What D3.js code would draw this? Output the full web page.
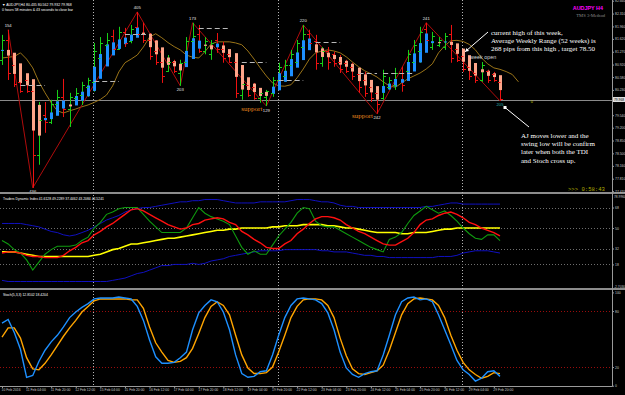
<!DOCTYPE html>
<html>
<head>
<meta charset="utf-8">
<script src="https://cdn.jsdelivr.net/npm/d3@7"></script>
<style>
body { margin: 0; background: #000; }
svg { display: block; font-family: "Liberation Sans", Arial, sans-serif; }
</style>
</head>
<body>
<svg width="625" height="395"></svg>
<script>
// bar time labels, one every 4 bars (H4)
var timeLabels = ["10 Feb 2016","11 Feb 04:00","11 Feb 20:00","12 Feb 12:00","15 Feb 04:00","15 Feb 20:00",
  "16 Feb 12:00","17 Feb 04:00","17 Feb 20:00","18 Feb 12:00","19 Feb 04:00","19 Feb 20:00","22 Feb 12:00",
  "23 Feb 04:00","23 Feb 20:00","24 Feb 12:00","25 Feb 04:00","25 Feb 20:00","26 Feb 12:00","29 Feb 04:00","29 Feb 20:00"];

// AUDJPY H4 candles
var open = [81.05,81.59,80.90,80.45,80.50,80.20,78.45,79.55,79.35,79.85,80.05,79.70,80.00,80.10,80.30,80.45,81.10,81.45,81.70,81.35,
  81.80,81.55,81.95,81.75,81.60,81.30,81.00,80.75,81.00,80.70,81.00,81.55,81.75,81.30,81.20,81.60,81.35,81.20,81.00,80.10,
  80.35,80.30,80.00,80.05,80.15,80.50,80.60,80.90,81.00,81.40,81.75,81.55,80.95,81.30,81.20,81.00,80.95,80.85,80.65,80.50,
  80.30,80.15,80.00,80.30,80.35,80.70,80.75,81.00,81.30,81.90,81.40,81.45,81.40,81.75,81.35,81.15,80.85,80.70,80.50,80.75,
  80.65,80.44];
var high = [81.73,81.87,81.05,80.86,80.58,80.28,79.90,79.90,79.96,80.23,80.53,80.15,80.28,80.45,80.56,81.51,81.67,81.78,81.87,81.95,
  81.92,82.00,82.355,82.06,81.78,81.59,81.32,81.18,81.05,81.05,81.67,82.06,82.00,81.67,81.59,81.78,81.54,81.32,81.18,80.50,
  80.42,80.42,80.23,80.23,80.58,80.97,81.05,81.32,81.59,82.00,81.87,81.73,81.40,81.40,81.27,81.18,81.05,80.97,80.78,80.72,
  80.45,80.28,80.78,80.58,80.83,80.86,81.32,81.59,81.95,82.06,81.81,81.67,81.78,82.00,81.46,81.32,81.05,80.86,80.99,80.78,
  80.72,80.56];
var low = [80.91,80.50,80.31,80.15,80.15,77.56,78.19,79.06,79.30,79.55,79.49,79.22,79.82,79.82,80.04,80.18,80.56,81.05,81.18,81.32,
  81.40,81.50,81.67,81.51,81.05,80.91,80.42,80.72,80.69,80.34,80.95,81.24,81.24,81.20,81.05,81.24,80.97,80.97,80.01,79.96,
  80.04,79.96,79.88,79.79,80.04,80.42,80.45,80.86,80.91,81.18,81.40,80.78,80.86,80.78,80.86,80.69,80.69,80.50,80.15,80.04,
  79.90,79.58,79.96,80.23,80.23,80.18,80.69,80.86,80.97,81.51,81.32,81.40,81.32,80.97,80.99,80.72,80.50,80.42,80.45,80.42,
  80.45,79.93];
var close = [81.59,80.70,80.40,80.20,80.20,78.45,79.40,79.35,79.85,80.05,79.70,80.05,80.15,80.35,80.50,81.30,81.50,81.60,81.35,81.80,
  81.50,81.90,81.75,81.60,81.15,81.00,80.60,81.00,80.75,80.95,81.55,81.70,81.30,81.55,81.50,81.35,81.10,81.00,80.15,80.40,
  80.10,80.00,80.15,80.20,80.50,80.85,80.90,81.20,81.50,81.75,81.50,80.95,81.30,81.00,80.95,80.80,80.75,80.60,80.30,80.15,
  80.00,79.85,80.60,80.50,80.70,80.35,81.20,81.45,81.80,81.60,81.70,81.60,81.70,81.10,81.05,80.80,80.60,80.50,80.90,80.50,
  80.50,79.97];

// shifted moving average (extends 3 bars past the last candle)
var movingAvg = [81.10,81.12,81.14,81.24,81.07,80.83,80.45,80.15,79.88,79.66,79.60,79.66,79.71,79.77,79.82,79.89,79.97,80.09,80.34,80.72,
  80.97,81.07,81.18,81.40,81.67,81.76,81.65,81.52,81.41,81.32,81.18,81.12,81.10,81.27,81.48,81.54,81.54,81.54,81.51,81.46,
  81.29,81.07,80.83,80.61,80.42,80.34,80.33,80.37,80.56,80.80,81.07,81.24,81.29,81.32,81.29,81.24,81.13,80.99,80.86,80.75,
  80.67,80.58,80.45,80.34,80.30,80.42,80.53,80.61,80.69,80.80,80.94,81.24,81.43,81.57,81.58,81.55,81.47,81.32,81.10,80.94,
  80.83,80.79,80.73,80.65,80.45];

// zigzag swing points: bar index, "H" or "L", label
var swingBars = [1,5,22,29,31,43,49,61,69,81];
var swingTypes = ["H","L","H","L","H","L","H","L","H","L"];
var swingLabels = ["154","436","405","203","173","129","220","242","241","205"];

// grey dashed level segments: [from bar, to bar, price]
var dashLevels = [[3,7,80.37],[15,19,80.48],[20,24,81.76],[32,37,81.92],[39,43,80.99],[45,49,80.50],[51,55,81.54],[58,61,80.69],[62,67,80.69]];

var priceTicks = [82.660,82.310,81.960,81.620,81.270,80.920,80.580,80.230,79.540,79.200,78.850,78.500,78.160,77.810,77.470];
var lastPrice = 79.968;

// Traders Dynamic Index
var tdiUpper = [54,54,54,54,53,52,51,49,47,46,44,43,44,46,48,51,54,57,59,61,64,66,67,68,68,69,70,71,72,73,73,74,74,75,75,75,74,73,72,72,
  72,72,73,73,73,73,73,74,75,75,75,74,73,73,72,70,69,69,68,68,68,68,68,68,68,68,68,68,68,69,69,70,71,72,72,71,71,71,71,71,71,71];
var tdiLower = [4,3,3,3,3,3,3,3,3,3,3,3,3,3,3,3,3,3,4,5,6,8,10,11,13,15,17,17,18,18,18,19,18,19,21,22,23,25,26,27,
  28,29,30,30,30,30,31,31,31,31,31,31,30,30,29,29,29,28,27,26,26,25,25,24,24,24,24,24,24,24,24,25,25,25,26,28,29,30,30,30,29,28];
var tdiPrice = [39,36,31,28,22,13,20,27,31,34,34,34,35,39,42,50,55,62,64,67,68,68,68,62,56,51,46,46,46,46,50,59,68,63,60,58,56,53,43,33,
  27,30,27,27,35,43,49,55,63,68,67,56,52,51,51,48,45,42,39,36,33,31,29,40,42,46,54,61,65,69,66,63,65,61,56,50,45,41,40,44,44,39];
var tdiSignal = [28,29,29,28,26,25,25,24,24,24,26,30,33,37,39,44,47,51,54,58,62,66,67,65,62,59,56,53,51,49,50,53,54,57,58,59,58,55,53,47,
  44,40,37,33,32,32,36,39,45,49,54,58,60,60,59,57,53,50,47,45,42,39,36,35,35,38,41,46,53,57,58,61,63,64,62,59,55,53,50,48,46,43];
var tdiBase = [29,29,29,28,27,26,25,25,25,25,25,25,25,25,25,26,27,29,31,32,34,36,36,37,38,39,40,41,41,42,43,44,45,46,47,48,48,49,49,50,
  50,50,50,50,51,51,52,52,52,53,53,53,53,52,52,51,50,50,49,48,47,46,46,46,46,45,45,46,46,46,47,48,49,49,50,50,50,50,50,50,50,50];
var tdiLevels = [68,50,32,18];

// Stochastic (5,3,3)
var stochMain = [67,71,57,39,9,11,26,38,47,54,63,73,79,84,88,93,94,94,94,95,94,93,85,70,49,31,24,24,25,30,36,60,78,86,92,90,79,60,33,13,
  9,10,15,16,33,54,73,86,93,94,93,92,88,78,60,36,19,12,9,13,15,16,33,54,76,90,94,95,92,93,90,76,60,44,27,17,12,5,8,15,16,10];
var stochSignal = [52,62,62,51,30,18,17,24,33,43,53,62,70,79,85,91,93,93,93,93,93,92,92,83,63,46,36,27,25,26,30,40,56,73,85,90,86,76,54,33,
  19,13,13,14,20,36,54,73,85,92,93,93,92,86,73,51,32,18,13,12,14,16,22,38,57,76,88,93,94,93,92,86,73,54,38,25,17,12,8,10,14,13];
var stochLevels = [80,20];

var svg = d3.select("svg");
var axisX = 612;

var x = d3.scaleLinear().domain([0, 81]).range([2, 500]);
var yP = d3.scaleLinear().domain([77.42, 82.68]).range([193, 0]);
var yT = d3.scaleLinear().domain([-2.7, 79]).range([288, 195]);
var yS = d3.scaleLinear().domain([0, 100]).range([385.7, 292.4]);

var defs = svg.append("defs");
function clip(id, y0, y1) {
  defs.append("clipPath").attr("id", id).append("rect")
    .attr("x", 0).attr("y", y0).attr("width", axisX).attr("height", y1 - y0);
}
clip("cMain", 0, 192);
clip("cTdi", 195, 288);
clip("cSto", 291, 386);

// panel frames
svg.append("rect").attr("x", 0).attr("y", 192).attr("width", 625).attr("height", 2).attr("fill", "#8c8c8c");
svg.append("rect").attr("x", 0).attr("y", 288).attr("width", 625).attr("height", 2).attr("fill", "#8c8c8c");
svg.append("line").attr("x1", axisX + 0.5).attr("x2", axisX + 0.5).attr("y1", 0).attr("y2", 386.5)
  .attr("stroke", "#9a9a9a");
svg.append("line").attr("x1", 0).attr("x2", axisX).attr("y1", 386.5).attr("y2", 386.5).attr("stroke", "#9a9a9a");

// week separators
[15, 45, 75].forEach(function(i) {
  svg.append("line").attr("x1", Math.round(x(i)) - 0.5).attr("x2", Math.round(x(i)) - 0.5)
    .attr("y1", 0).attr("y2", 386).attr("stroke", "#b4b4b4").attr("stroke-dasharray", "1,2");
});

// ---------- main panel ----------
var main = svg.append("g").attr("clip-path", "url(#cMain)");

main.append("line").attr("x1", 0).attr("x2", axisX).attr("y1", Math.round(yP(lastPrice)) + 0.5)
  .attr("y2", Math.round(yP(lastPrice)) + 0.5).attr("stroke", "#8a8a8a");

main.append("path").datum(movingAvg)
  .attr("fill", "none").attr("stroke", "#9a7418").attr("stroke-width", 1)
  .attr("d", d3.line().x(function(d, i) { return x(i); }).y(function(d) { return yP(d); }));

var swingPrices = swingBars.map(function(b, k) { return swingTypes[k] == "H" ? high[b] : low[b]; });
main.append("path").datum(swingBars)
  .attr("fill", "none").attr("stroke", "#b00c0c").attr("stroke-width", 1)
  .attr("d", d3.line().x(function(d) { return x(d); }).y(function(d, k) { return yP(swingPrices[k]); }));

// heiken ashi bodies
var haOpen = [], haClose = [];
open.forEach(function(o, i) {
  haClose[i] = (open[i] + high[i] + low[i] + close[i]) / 4;
  haOpen[i] = i == 0 ? (open[0] + close[0]) / 2 : (haOpen[i - 1] + haClose[i - 1]) / 2;
});

var bars = main.append("g").selectAll("g").data(open).enter().append("g");
bars.append("line")
  .attr("x1", function(d, i) { return Math.round(x(i)) + 0.5; })
  .attr("x2", function(d, i) { return Math.round(x(i)) + 0.5; })
  .attr("y1", function(d, i) { return yP(high[i]); })
  .attr("y2", function(d, i) { return yP(low[i]); })
  .attr("stroke", function(d, i) { return close[i] >= open[i] ? "#18d018" : "#ee1111"; });
bars.append("rect")
  .attr("x", function(d, i) { return Math.round(x(i)) - 1; })
  .attr("width", 3)
  .attr("y", function(d, i) { return yP(Math.max(haOpen[i], haClose[i])); })
  .attr("height", function(d, i) { return Math.max(1, Math.abs(yP(haOpen[i]) - yP(haClose[i]))); })
  .attr("fill", function(d, i) { return haClose[i] >= haOpen[i] ? "#1e90ff" : "#ffa589"; });
bars.append("line")
  .attr("x1", function(d, i) { return Math.round(x(i)) - 2; })
  .attr("x2", function(d, i) { return Math.round(x(i)) + 0.5; })
  .attr("y1", function(d, i) { return Math.round(yP(open[i])) + 0.5; })
  .attr("y2", function(d, i) { return Math.round(yP(open[i])) + 0.5; })
  .attr("stroke", function(d, i) { return close[i] >= open[i] ? "#18d018" : "#ee1111"; });
bars.append("line")
  .attr("x1", function(d, i) { return Math.round(x(i)) + 0.5; })
  .attr("x2", function(d, i) { return Math.round(x(i)) + 3; })
  .attr("y1", function(d, i) { return Math.round(yP(close[i])) + 0.5; })
  .attr("y2", function(d, i) { return Math.round(yP(close[i])) + 0.5; })
  .attr("stroke", function(d, i) { return close[i] >= open[i] ? "#18d018" : "#ee1111"; });

main.append("g").selectAll("line").data(dashLevels).enter().append("line")
  .attr("x1", function(d) { return x(d[0]); }).attr("x2", function(d) { return x(d[1]); })
  .attr("y1", function(d) { return Math.round(yP(d[2])) + 0.5; })
  .attr("y2", function(d) { return Math.round(yP(d[2])) + 0.5; })
  .attr("stroke", "#b8b8b8").attr("stroke-dasharray", "5,3");

// swing labels
main.append("g").selectAll("text").data(swingBars).enter().append("text")
  .attr("x", function(d) { return x(d); })
  .attr("y", function(d, k) { return swingTypes[k] == "H" ? yP(swingPrices[k]) - 3 : yP(swingPrices[k]) + 5.5; })
  .attr("text-anchor", "middle").attr("font-size", 4.2)
  .attr("fill", function(d, k) { return k == swingBars.length - 1 ? "#27b3b0" : "#e6e6e6"; })
  .text(function(d, k) { return swingLabels[k]; });

[43, 61].forEach(function(b) {
  main.append("text").attr("x", x(b) - 4).attr("y", yP(low[b]) + 4.5)
    .attr("text-anchor", "end").attr("font-family", "Liberation Serif, serif").attr("font-size", 7)
    .attr("fill", "#e8871e").text("support");
});

main.append("text").attr("x", x(75) + 7).attr("y", yP(81.08)).attr("font-size", 5.4)
  .attr("fill", "#d8d8d8").text("week open");
main.append("text").attr("x", x(86)).attr("y", yP(79.86)).attr("font-size", 4)
  .attr("fill", "#c8c800").text("0");

// annotations
function arrow(g, x1, y1, x2, y2, square) {
  g.append("line").attr("x1", x1).attr("y1", y1).attr("x2", x2).attr("y2", y2)
    .attr("stroke", "#ffffff").attr("stroke-width", 1);
  if (square) {
    g.append("rect").attr("x", x2 - 1.5).attr("y", y2 - 1.5).attr("width", 3).attr("height", 3).attr("fill", "#ffffff");
  } else {
    var a = Math.atan2(y2 - y1, x2 - x1), L = 4, w = 0.5;
    var p = [[x2, y2], [x2 - L * Math.cos(a - w), y2 - L * Math.sin(a - w)], [x2 - L * Math.cos(a + w), y2 - L * Math.sin(a + w)]];
    g.append("polygon").attr("points", p.join(" ")).attr("fill", "#ffffff");
  }
}
arrow(svg, 488, 32, x(75) + 2, yP(81.27), false);
arrow(svg, 529, 127, x(81) + 5, yP(79.75), true);

var note1 = ["current high of this week,", "Average Weekly Range (52 weeks) is", "268 pips from this high , target 78.50"];
svg.append("g").selectAll("text").data(note1).enter().append("text")
  .attr("x", 491).attr("y", function(d, i) { return 35.3 + i * 7.6; })
  .attr("font-family", "Liberation Serif, serif").attr("font-size", 7).attr("fill", "#ffffff")
  .text(function(d) { return d; });
var note2 = ["AJ moves lower and the", "swing low will be confirm", "later when both the TDI", "and Stoch cross up."];
svg.append("g").selectAll("text").data(note2).enter().append("text")
  .attr("x", 521).attr("y", function(d, i) { return 137.7 + i * 8.3; })
  .attr("font-family", "Liberation Serif, serif").attr("font-size", 7).attr("fill", "#ffffff")
  .text(function(d) { return d; });

svg.append("text").attr("x", 603).attr("y", 10).attr("text-anchor", "end")
  .attr("font-size", 5.4).attr("font-weight", "bold").attr("fill", "#ff00ff").text("AUDJPY H4");
svg.append("text").attr("x", 605).attr("y", 17.3).attr("text-anchor", "end")
  .attr("font-family", "Liberation Serif, serif").attr("font-size", 4.6).attr("fill", "#8c8c8c").text("TMS 3-Method");
svg.append("text").attr("x", 568).attr("y", 191.3).attr("font-family", "Liberation Mono, monospace")
  .attr("font-size", 5.6).attr("fill", "#b0ac00").text(">>> 0:58:43");

svg.append("text").attr("x", 2).attr("y", 5.7).attr("font-size", 3.5).attr("fill", "#ffffff")
  .text("\u25BC AUDJPY,H4 80.435 80.562 79.932 79.968");
svg.append("text").attr("x", 2).attr("y", 10.8).attr("font-size", 3.5).attr("fill", "#ffffff")
  .text("0 hours 58 minutes & 43 seconds to close bar");

// price axis
var pAxis = svg.append("g").attr("transform", "translate(" + axisX + ",0)")
  .call(d3.axisRight(yP).tickValues(priceTicks).tickSize(2).tickPadding(1).tickFormat(d3.format(".3f")));
pAxis.select(".domain").remove();

svg.append("rect").attr("x", axisX + 1).attr("y", yP(lastPrice) - 2.5).attr("width", 12).attr("height", 5)
  .attr("fill", "#e0e0e0");
svg.append("text").attr("x", axisX + 2).attr("y", yP(lastPrice) + 1.3).attr("font-size", 3.3)
  .attr("fill", "#000").text(d3.format(".3f")(lastPrice));

// ---------- TDI panel ----------
var tdi = svg.append("g").attr("clip-path", "url(#cTdi)");
tdi.selectAll("line.lvl").data(tdiLevels).enter().append("line")
  .attr("x1", 0).attr("x2", axisX)
  .attr("y1", function(d) { return Math.round(yT(d)) + 0.5; })
  .attr("y2", function(d) { return Math.round(yT(d)) + 0.5; })
  .attr("stroke", "#6e6e6e").attr("stroke-dasharray", "1,2");

var tLine = d3.line().x(function(d, i) { return x(i); }).y(function(d) { return yT(d); });
[[tdiUpper, "#1010c0", 1], [tdiLower, "#1010c0", 1], [tdiBase, "#ffff00", 1.6],
 [tdiPrice, "#0f9a0f", 1.1], [tdiSignal, "#ff1010", 1.4]].forEach(function(s) {
  tdi.append("path").datum(s[0]).attr("fill", "none").attr("stroke", s[1])
    .attr("stroke-width", s[2]).attr("d", tLine);
});
svg.append("text").attr("x", 3).attr("y", 200).attr("font-size", 3.4).attr("fill", "#ffffff")
  .text("Traders Dynamic Index 41.6128 49.2289 37.4462 43.2084 44.5241");

var tAxis = svg.append("g").attr("transform", "translate(" + axisX + ",0)")
  .call(d3.axisRight(yT).tickValues(tdiLevels).tickSize(2).tickPadding(1).tickFormat(d3.format("d")));
tAxis.select(".domain").remove();
svg.append("text").attr("x", axisX + 2).attr("y", 198).attr("font-size", 3.3).attr("fill", "#c8c8c8").text("78.9960");
svg.append("text").attr("x", axisX + 2).attr("y", 288).attr("font-size", 3.3).attr("fill", "#c8c8c8").text("-2.7030");

// ---------- Stochastic panel ----------
var sto = svg.append("g").attr("clip-path", "url(#cSto)");
sto.selectAll("line.lvl").data(stochLevels).enter().append("line")
  .attr("x1", 0).attr("x2", axisX)
  .attr("y1", function(d) { return Math.round(yS(d)) + 0.5; })
  .attr("y2", function(d) { return Math.round(yS(d)) + 0.5; })
  .attr("stroke", "#9a0c0c").attr("stroke-dasharray", "1,2");
var sLine = d3.line().x(function(d, i) { return x(i); }).y(function(d) { return yS(d); });
sto.append("path").datum(stochSignal).attr("fill", "none").attr("stroke", "#ffa500").attr("stroke-width", 1.4).attr("d", sLine);
sto.append("path").datum(stochMain).attr("fill", "none").attr("stroke", "#1e90ff").attr("stroke-width", 1.4).attr("d", sLine);
svg.append("text").attr("x", 3).attr("y", 296).attr("font-size", 3.4).attr("fill", "#ffffff")
  .text("Stoch(5,3,3) 12.8102 18.4204");

var sAxis = svg.append("g").attr("transform", "translate(" + axisX + ",0)")
  .call(d3.axisRight(yS).tickValues([100, 80, 20, 0]).tickSize(2).tickPadding(1));
sAxis.select(".domain").remove();

// ---------- time axis ----------
var tickIdx = timeLabels.map(function(d, k) { return k * 4; });
var xAxis = svg.append("g").attr("transform", "translate(0,386)")
  .call(d3.axisBottom(x).tickValues(tickIdx).tickSize(2).tickPadding(1)
    .tickFormat(function(d) { return timeLabels[d / 4]; }));
xAxis.select(".domain").remove();
xAxis.selectAll("text").attr("text-anchor", "start").attr("dx", -1);

svg.selectAll(".tick line").attr("stroke", "#9a9a9a");
svg.selectAll(".tick text").attr("fill", "#c8c8c8").attr("font-size", 3.4)
  .attr("font-family", "Liberation Sans, Arial, sans-serif");
</script>
</body>
</html>
